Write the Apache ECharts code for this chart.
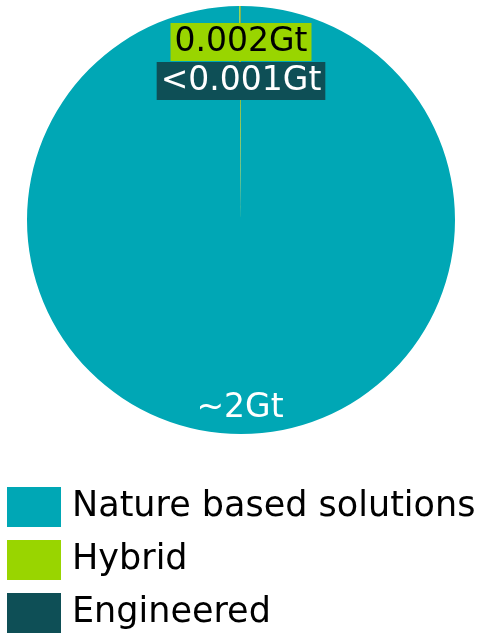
<!DOCTYPE html>
<html><head><meta charset="utf-8">
<script src="https://cdn.jsdelivr.net/npm/echarts@6/dist/echarts.min.js"></script>
<style>html,body{margin:0;padding:0;background:#fff}#c{width:479px;height:636px}</style>
</head><body><div id="c"></div>
<script>
const categories = ['Nature based solutions', 'Hybrid', 'Engineered'];
const values = [2, 0.002, 0.0005];
const valueLabels = ['~2Gt', '0.002Gt', '<0.001Gt'];
const colors = ['#00A7B5', '#99D500', '#0E4F56'];
const labelColors = ['#ffffff', '#000000', '#ffffff'];
const labelBg = ['transparent', '#99D500', '#0E4F56'];
const labelPos = [[240, 408], [241, 42], [241, 81]];

const chart = echarts.init(document.getElementById('c'));
const FONT = 'DejaVu Sans';
chart.setOption({
  animation: false,
  legend: {
    orient: 'vertical', left: 7, top: 487, padding: 0,
    width: 600, height: 160,
    itemWidth: 54, itemHeight: 40, itemGap: 13,
    icon: 'rect',
    textStyle: { fontFamily: FONT, fontSize: 35, color: '#000', padding: [0, 0, 0, 6] },
    data: categories
  },
  series: [{
    type: 'pie',
    center: [241, 220], radius: 214,
    startAngle: 90, clockwise: true,
    avoidLabelOverlap: false,
    labelLine: { show: false },
    data: categories.map((n, i) => ({
      name: n, value: values[i],
      itemStyle: { color: colors[i] },
      label: {
        show: true, position: 'inside',
        formatter: valueLabels[i],
        color: labelColors[i], backgroundColor: labelBg[i],
        fontFamily: FONT, fontSize: 33, padding: [3, 4, 2, 4]
      }
    })),
    labelLayout: p => ({ x: labelPos[p.dataIndex][0], y: labelPos[p.dataIndex][1], align: 'center', verticalAlign: 'middle' })
  }]
});
</script></body></html>
